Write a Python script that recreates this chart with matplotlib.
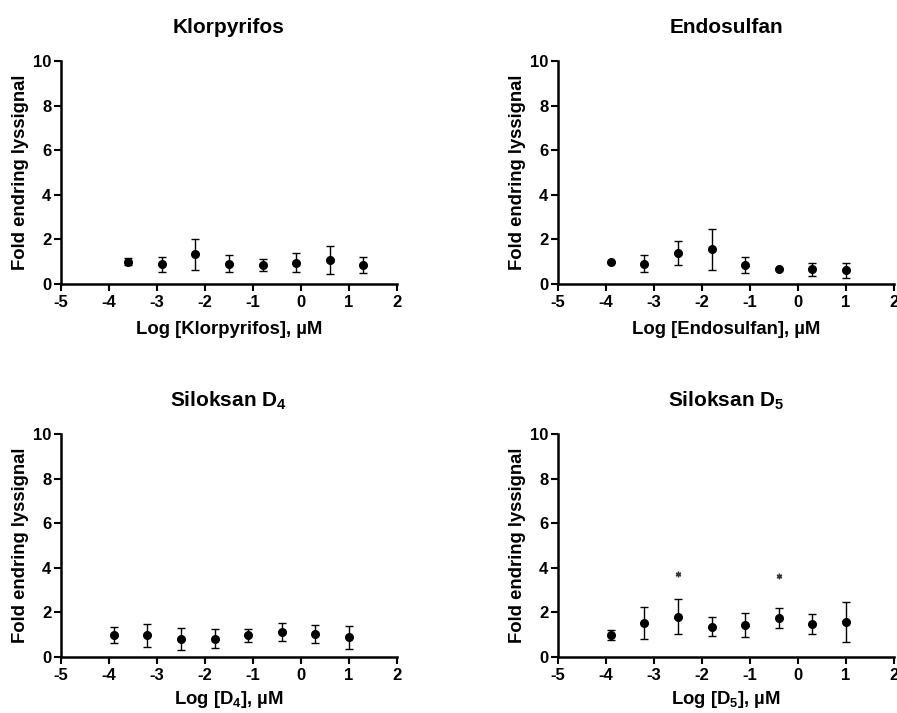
import matplotlib
matplotlib.use("Agg")
import matplotlib.pyplot as plt
import numpy as np

plt.rcParams['font.family'] = ['Liberation Sans', 'DejaVu Sans']
plt.rcParams['font.weight'] = 'bold'
plt.rcParams['mathtext.default'] = 'regular'

# --- Data ---
titles = ["Klorpyrifos", "Endosulfan", "Siloksan D$_4$", "Siloksan D$_5$"]
xlabels = ["Log [Klorpyrifos], \u00b5M", "Log [Endosulfan], \u00b5M",
           "Log [D$_4$], \u00b5M", "Log [D$_5$], \u00b5M"]
ylabel = "Fold endring lyssignal"

x_klor = [-3.6, -2.9, -2.2, -1.5, -0.8, -0.1, 0.6, 1.3]
y_klor = [1.00, 0.88, 1.33, 0.90, 0.84, 0.96, 1.06, 0.85]
e_klor = [0.15, 0.34, 0.70, 0.38, 0.26, 0.43, 0.63, 0.37]

x_endo = [-3.9, -3.2, -2.5, -1.8, -1.1, -0.4, 0.3, 1.0]
y_endo = [0.99, 0.90, 1.39, 1.55, 0.84, 0.66, 0.66, 0.61]
e_endo = [0.0, 0.38, 0.54, 0.92, 0.35, 0.0, 0.28, 0.33]

x_d4 = [-3.9, -3.2, -2.5, -1.8, -1.1, -0.4, 0.3, 1.0]
y_d4 = [0.97, 0.97, 0.81, 0.82, 0.97, 1.12, 1.03, 0.88]
e_d4 = [0.36, 0.53, 0.49, 0.43, 0.28, 0.39, 0.40, 0.53]

x_d5 = [-3.9, -3.2, -2.5, -1.8, -1.1, -0.4, 0.3, 1.0]
y_d5 = [0.97, 1.52, 1.81, 1.36, 1.43, 1.73, 1.48, 1.57]
e_d5 = [0.23, 0.70, 0.78, 0.43, 0.54, 0.45, 0.46, 0.91]

sig_x_d5 = [-2.5, -0.4]
sig_y_d5 = [3.71, 3.62]

series = [(x_klor, y_klor, e_klor), (x_endo, y_endo, e_endo),
          (x_d4, y_d4, e_d4), (x_d5, y_d5, e_d5)]

xticks = [-5, -4, -3, -2, -1, 0, 1, 2]
yticks = [0, 2, 4, 6, 8, 10]

W, H = 897, 713
fig = plt.figure(figsize=(W / 100, H / 100), dpi=100)

# axes boxes in pixels: left, right, top, bottom
boxes = [(61, 397, 61, 284), (558, 894, 61, 284),
         (61, 397, 434, 657), (558, 894, 434, 657)]
xlabel_pads = [8, 8, 4, 4]

for i, (box, (xs, ys, es)) in enumerate(zip(boxes, series)):
    l, r, t, b = box
    ax = fig.add_axes([l / W, (H - b) / H, (r - l) / W, (b - t) / H])
    ax.errorbar(xs, ys, yerr=es, fmt='o', color='black', ms=5.5,
                elinewidth=1.0, capsize=3, capthick=1.0)
    if i == 3:
        ax.plot(sig_x_d5, sig_y_d5, linestyle='none', marker=(6, 2, 0),
                ms=4, color='#333333', mew=1.0)
    ax.set_xlim(-5, 2)
    ax.set_ylim(0, 10)
    ax.set_xticks(xticks)
    ax.set_yticks(yticks)
    ax.set_xticklabels([str(v) for v in xticks], fontsize=12, fontweight='bold')
    ax.set_yticklabels([str(v) for v in yticks], fontsize=12, fontweight='bold')
    for s in ['top', 'right']:
        ax.spines[s].set_visible(False)
    for s in ['left', 'bottom']:
        ax.spines[s].set_linewidth(1.8)
    ax.tick_params(axis='x', direction='out', length=5, width=1.5, pad=3)
    ax.tick_params(axis='y', direction='out', length=5, width=1.5, pad=2)
    ax.set_title(titles[i], fontsize=15, fontweight='bold', pad=20)
    ax.set_xlabel(xlabels[i], fontsize=13.3, fontweight='bold',
                  labelpad=xlabel_pads[i])
    ax.set_ylabel(ylabel, fontsize=13.3, fontweight='bold', labelpad=3)

fig.savefig("out.png", dpi=100, facecolor='white')
